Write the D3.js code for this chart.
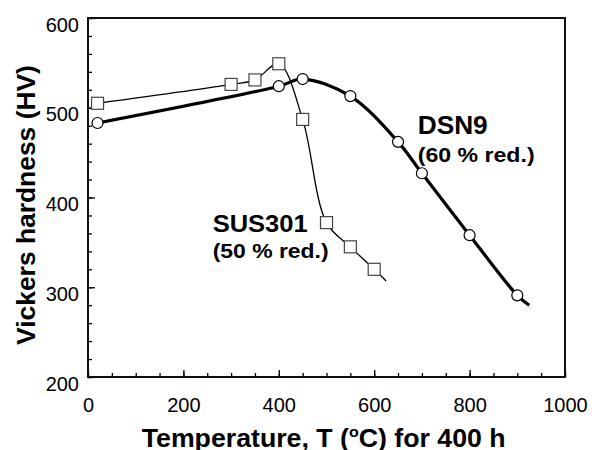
<!DOCTYPE html>
<html>
<head>
<meta charset="utf-8">
<script src="https://cdn.jsdelivr.net/npm/d3@7"></script>
<style>
  html, body { margin: 0; padding: 0; background: #fff; }
  svg { display: block; }
  text { font-family: "Liberation Sans", Arial, sans-serif; fill: #000; }
</style>
</head>
<body>
<svg id="chart" width="605" height="450"></svg>
<script>
// ---- data ----
const dsnTemp = [20, 400, 450, 550, 650, 700, 800, 900];
const dsnHV   = [483, 524, 532, 513, 462, 427, 358, 291];
const dsnLineEnd = [925, 280];          // where the drawn curve stops
const susTemp = [20, 300, 350, 400, 450, 500, 550, 600];
const susHV   = [505, 526, 531, 549, 487, 372, 345, 320];
const susLineEnd = [625, 307];
const xTicks = [0, 200, 400, 600, 800, 1000];
const yTicks = [200, 300, 400, 500, 600];

// ---- layout ----
const L = 88, R = 565, T = 18, B = 377;
const svg = d3.select("#chart");
const x = d3.scaleLinear().domain([0, 1000]).range([L, R]);
const y = d3.scaleLinear().domain([200, 600]).range([B, T]);

function fitWidth(sel, w) {
  const n = sel.node();
  const cur = n.getComputedTextLength();
  const tx = +sel.attr("x"), ty = +sel.attr("y");
  const s = w / cur;
  sel.attr("x", 0).attr("y", 0)
     .attr("transform", `translate(${tx},${ty}) scale(${s},1)`);
}

// ---- axes (inward ticks) ----
const gxMinor = svg.append("g").attr("transform", `translate(0,${B})`)
  .call(d3.axisBottom(x).tickValues(d3.range(0, 1001, 50)).tickSize(-4).tickFormat(""));
const gxMajor = svg.append("g").attr("transform", `translate(0,${B})`)
  .call(d3.axisBottom(x).tickValues(xTicks).tickSize(-7).tickPadding(0).tickFormat(d3.format("d")));
const gyMinor = svg.append("g").attr("transform", `translate(${L},0)`)
  .call(d3.axisLeft(y).tickValues(d3.range(200, 601, 20)).tickSize(-4).tickFormat(""));
const gyMajor = svg.append("g").attr("transform", `translate(${L},0)`)
  .call(d3.axisLeft(y).tickValues(yTicks).tickSize(-7).tickFormat(d3.format("d")));

[gxMinor, gxMajor, gyMinor, gyMajor].forEach(g => {
  g.select(".domain").remove();
  g.selectAll(".tick line").attr("stroke", "#000").attr("stroke-width", 1.3);
});
gxMajor.selectAll(".tick text")
  .attr("font-size", 20).attr("y", 35).attr("dy", 0)
  .style("font-family", "'Liberation Sans', Arial, sans-serif").attr("fill", "#000");
gyMajor.selectAll(".tick text")
  .attr("font-size", 20).attr("x", -9).attr("dy", 13)
  .style("font-family", "'Liberation Sans', Arial, sans-serif").attr("fill", "#000");

// frame
svg.append("rect").attr("x", L).attr("y", T).attr("width", R - L).attr("height", B - T)
  .attr("fill", "none").attr("stroke", "#111").attr("stroke-width", 2);

// ---- lines ----
const line = d3.line().x(d => x(d[0])).y(d => y(d[1])).curve(d3.curveCatmullRom.alpha(0.5));
const susPts = susTemp.map((t, i) => [t, susHV[i]]).concat([susLineEnd]);
const dsnPts = dsnTemp.map((t, i) => [t, dsnHV[i]]).concat([dsnLineEnd]);

svg.append("path").attr("d", line(susPts)).attr("fill", "none")
  .attr("stroke", "#000").attr("stroke-width", 1.3);
svg.append("path").attr("d", line(dsnPts)).attr("fill", "none")
  .attr("stroke", "#000").attr("stroke-width", 3.2);

// ---- markers ----
svg.append("g").selectAll("rect").data(susTemp).join("rect")
  .attr("x", (d) => x(d) - 6).attr("y", (d, i) => y(susHV[i]) - 6)
  .attr("width", 12).attr("height", 12)
  .attr("fill", "#fff").attr("stroke", "#444").attr("stroke-width", 1.2);
svg.append("g").selectAll("circle").data(dsnTemp).join("circle")
  .attr("cx", d => x(d)).attr("cy", (d, i) => y(dsnHV[i])).attr("r", 5.5)
  .attr("fill", "#fff").attr("stroke", "#000").attr("stroke-width", 1.2);

// ---- annotations ----
function label(txt, x0, y0, size, w) {
  const t = svg.append("text").attr("x", x0).attr("y", y0)
    .attr("font-size", size).attr("font-weight", "bold").text(txt);
  fitWidth(t, w);
  return t;
}
label("SUS301", 212.7, 231.7, 24, 95);
label("(50 % red.)", 212.7, 258.3, 21, 116);
label("DSN9", 417.7, 134.3, 25, 70);
label("(60 % red.)", 417.7, 161.7, 21, 117);

// ---- axis titles ----
const xt = svg.append("text").attr("x", 141.7).attr("y", 446.5)
  .attr("font-size", 25).attr("font-weight", "bold");
xt.append("tspan").text("Temperature, T (");
xt.append("tspan").text("o").attr("font-size", 15).attr("dy", -10);
xt.append("tspan").text("C) for 400 h").attr("dy", 10);
fitWidth(xt, 364);

const yt = svg.append("text").attr("font-size", 25).attr("font-weight", "bold")
  .attr("text-anchor", "middle").attr("x", 0).attr("y", 0)
  .text("Vickers hardness (HV)");
const ytw = yt.node().getComputedTextLength();
yt.attr("transform", `translate(35,205) rotate(-90) scale(${280 / ytw},1)`);
</script>
</body>
</html>
